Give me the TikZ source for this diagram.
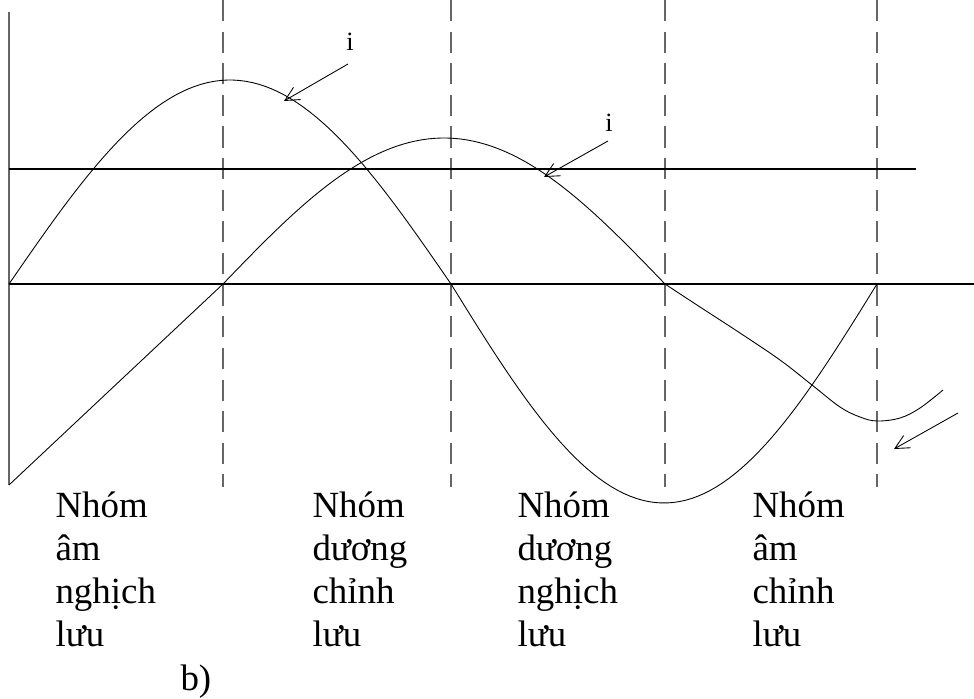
\documentclass[tikz,border=0pt]{standalone}
\usepackage{fontspec}
\setmainfont{Liberation Serif}
\usetikzlibrary{arrows.meta}

\begin{document}
\begin{tikzpicture}[x=0.02cm, y=-0.02cm, line width=0.6pt,
  axis/.style={draw=black!60},
  guide/.style={draw=black!60, dash pattern=on 12pt off 6pt},
  wave/.style={draw=black, line width=0.5pt},
  pointer/.style={-{Straight Barb[length=8pt,width=8pt]}, line width=0.5pt},
  group/.style={anchor=base west, text width=3cm, align=left, inner sep=0pt, font=\fontsize{21}{24.6}\selectfont},
  ilabel/.style={font=\fontsize{15}{17}\selectfont, inner sep=0pt}]
  \useasboundingbox (0,0) rectangle (974,699);

  % Guides between the groups
  \foreach \gx in {223,451,665,877}
    \draw[guide] (\gx,0) -- (\gx,487);

  % Axes and level line
  \draw[axis] (9,12) -- (9,485);
  \draw (9,284) -- (974,284);
  \draw (9,169) -- (916,169);

  % First current
  \draw[wave] plot[domain=9:451, samples=70] (\x,{284-204*sin((\x-9)/442*180)})
    -- plot[domain=451:877, samples=70] (\x,{284+219*sin((\x-451)/426*180)});

  % Second current
  \draw[wave] (9,485) -- (223,284)
    -- plot[domain=223:665, samples=70] (\x,{284-146*sin((\x-223)/442*180)})
    -- plot[smooth, tension=0.6] coordinates {(665,284) (700,307) (740,333) (780,360)
       (812,385) (840,407) (860,417) (877,421) (900,418) (920,408) (943,390)};

  % Pointers
  \node[ilabel] (iA) at (350,42) {i};
  \coordinate (tailA) at (348,64);
  \coordinate (tipA) at (284,101);
  \draw[pointer] (tailA) -- (tipA);

  \node[ilabel] (iB) at (609,123) {i};
  \coordinate (tailB) at (608,141);
  \coordinate (tipB) at (544,177);
  \draw[pointer] (tailB) -- (tipB);

  \coordinate (tailC) at (958,413);
  \coordinate (tipC) at (894,449);
  \draw[pointer] (tailC) -- (tipC);

  % Group labels
  \node[group] (g1) at (55,517) {Nhóm\\âm\\nghịch\\lưu};
  \node[group] (g2) at (312,517) {Nhóm\\dương\\chỉnh\\lưu};
  \node[group] (g3) at (517,517) {Nhóm\\dương\\nghịch\\lưu};
  \node[group] (g4) at (752,517) {Nhóm\\âm\\chỉnh\\lưu};
  \node[group] (cap) at (180,690) {b)};
\end{tikzpicture}
\end{document}
